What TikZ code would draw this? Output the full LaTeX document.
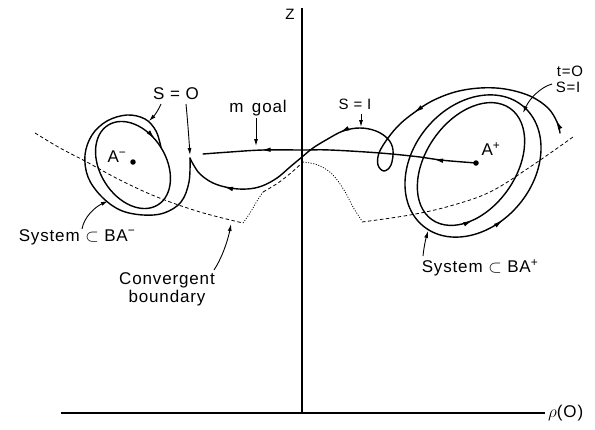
\documentclass[tikz,border=0pt]{standalone}
\usepackage{fontspec}
\setmainfont{Liberation Sans}[LetterSpace=5]
\usetikzlibrary{arrows.meta,decorations.markings}
\tikzset{
  traj/.style={line width=1.4pt, line join=round, line cap=round},
  bound/.style={line width=0.8pt, dash pattern=on 3.5pt off 2.5pt},
  dotb/.style={line width=0.8pt, dash pattern=on 1pt off 1.6pt},
  axisline/.style={line width=1.3pt},
  leader/.style={line width=0.9pt, -{Latex[length=7pt,width=4pt]}},
  lbl/.style={inner sep=0pt, font=\fontsize{17}{19}\selectfont},
  smlbl/.style={inner sep=0pt, font=\fontsize{15}{17}\selectfont},
  attractor/.style={circle, fill=black, inner sep=0pt, minimum size=5.5pt},
  bigtip/.tip={Latex[length=10pt,width=4.5pt]}
}
\begin{document}
\begin{tikzpicture}[x=1pt,y=-1pt]
\useasboundingbox (0,0) rectangle (595,429);

% axes
\coordinate (ztop) at (302,8);
\coordinate (origin) at (302,413);
\coordinate (xstart) at (61,413);
\coordinate (xend) at (545,413);
\draw[axisline] (ztop) -- (origin);
\draw[axisline] (xstart) -- (xend);
\node[smlbl] (lblZ) at (290,14) {Z};
\node[lbl, anchor=west] (lblRho) at (548,413) {$\rho$(O)};

% convergent boundary
\draw[bound] plot[smooth, tension=0.6] coordinates {(35,133) (60,148) (85,161) (120,180) (157,197) (200,212) (243,223)};
\draw[dotb] plot[smooth, tension=0.6] coordinates {(243,223) (250,213) (257,201) (263,192)};
\draw[bound] plot[smooth, tension=0.6] coordinates {(263,192) (278,183) (292,172) (303,162)};
\draw[dotb] plot[smooth, tension=0.6] coordinates {(303,162) (318,165) (332,174) (344,190) (353,207) (362,221)};
\draw[bound] plot[smooth, tension=0.6] coordinates {(362,222) (410,215) (450,206) (490,192) (530,167) (573,137)};

% right attractor rings
\draw[traj, rotate around={55:(471,164)}, postaction={decorate},
  decoration={markings, mark=at position 0.62 with {\arrow{bigtip}}}]
  (471,164) ellipse [x radius=68pt, y radius=45pt];
\draw[traj, rotate around={50:(473,166)}, postaction={decorate},
  decoration={markings, mark=at position 0.70 with {\arrow{bigtip}}}]
  (473,166) ellipse [x radius=78pt, y radius=60pt];

% main trajectory
\draw[traj, postaction={decorate}, decoration={markings,
    mark=at position 14pt with {\arrow{bigtip}},
    mark=at position 173pt with {\arrow{bigtip}},
    mark=at position 337pt with {\arrow{bigtip}},
    mark=at position 471pt with {\arrow{bigtip}}}]
  plot[smooth, tension=0.6] coordinates {(560,133) (557,122) (548,108) (530,96) (505,89) (480,88) (455,92) (432,101) (415,112) (400,124) (388,138) (379,153) (378,165) (384,171) (391,165) (393,150) (388,139) (376,131) (360,128) (343,131) (326,140) (313,148) (302,157) (290,167) (277,178) (262,186) (247,189) (230,188) (213,183) (200,174) (193,164) (190,158)};

% left spiral
\draw[traj] plot[smooth, tension=0.6] coordinates {(190,158) (189,182) (181,202) (164,213) (143,215) (120,210) (101,196) (88,177) (85,155) (92,135) (107,121) (127,115) (145,119) (156,131) (161,147.5)};
\draw[traj, rotate around={-58:(133,165)}, postaction={decorate},
  decoration={markings, mark=at position 0.29 with {\arrowreversed{bigtip}}}]
  (133,165) ellipse [x radius=47pt, y radius=33pt];

% m goal path
\draw[traj, postaction={decorate}, decoration={markings,
    mark=at position 43pt with {\arrow{bigtip}},
    mark=at position 216pt with {\arrow{bigtip}}}]
  plot[smooth, tension=0.6] coordinates {(476,163) (440,160) (420,157) (380,153) (330,150) (303,150) (263,150) (230,152) (203,154)};

% attractors
\node[attractor] (dotAm) at (133,162) {};
\node[attractor] (dotAp) at (476,163) {};
\node[lbl] (lblAm) at (117,157) {A\textsuperscript{−}};
\node[lbl] (lblAp) at (491,149) {A\textsuperscript{+}};

% labels
\node[lbl] (lblSO) at (176,94) {S = O};
\node[lbl] (lblMgoal) at (258,108) {m\enspace goal};
\node[smlbl] (lblS1) at (355,104) {S = I};
\node[smlbl] (lblT0) at (570,71) {t=O};
\node[smlbl] (lblS1b) at (568,87) {S=I};
\node[lbl] (lblSysM) at (77,237) {System $\subset$ BA\textsuperscript{−}};
\node[lbl, align=center, font=\fontsize{17}{18}\selectfont] (lblConv) at (167,289) {Convergent\\boundary};
\node[lbl] (lblSysP) at (480,268) {System $\subset$ BA\textsuperscript{+}};

% leaders
\coordinate (soLa) at (161,104);
\coordinate (soLb) at (149,121);
\coordinate (soRa) at (186,104);
\coordinate (soRb) at (190,155);
\draw[leader] (soLa) .. controls (158,111) and (154,116) .. (soLb);
\draw[leader] (soRa) .. controls (188,125) and (189,140) .. (soRb);
\coordinate (mgA) at (256,118);
\coordinate (mgB) at (256,146);
\draw[leader] (mgA) -- (mgB);
\coordinate (s1A) at (361,114);
\coordinate (s1B) at (361,127);
\draw[leader] (s1A) -- (s1B);
\coordinate (t0A) at (552,84);
\coordinate (t0B) at (523,113);
\draw[leader] (t0A) .. controls (541,87) and (530,98) .. (t0B);
\coordinate (smA) at (82,229);
\coordinate (smB) at (108,201);
\draw[leader] (smA) .. controls (84,217) and (95,207) .. (smB);
\coordinate (cvA) at (214,270);
\coordinate (cvB) at (231,224);
\draw[leader] (cvA) .. controls (222,258) and (228,240) .. (cvB);
\coordinate (spA) at (423,256);
\coordinate (spB) at (428,231);
\draw[leader] (spA) .. controls (424,246) and (426,238) .. (spB);
\end{tikzpicture}
\end{document}
